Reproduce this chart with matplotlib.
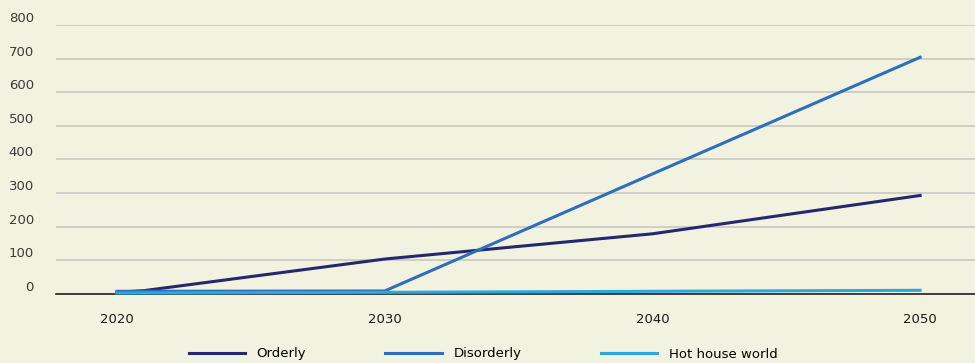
import matplotlib.pyplot as plt

years_orderly = [2020, 2021, 2030, 2040, 2050]
orderly = [5, 10, 104, 179, 293]

years_disorderly = [2020, 2030, 2040, 2050]
disorderly = [8, 9, 357, 704]

years_hot = [2020, 2030, 2040, 2050]
hot_house = [3, 5, 8, 11]

x_ticks = [2020, 2030, 2040, 2050]
y_ticks = [0, 100, 200, 300, 400, 500, 600, 700, 800]

bg = '#F2F2E0'

fig = plt.figure(figsize=(9.75, 3.63), dpi=100, facecolor=bg)
ax = fig.add_axes([56 / 975, 69 / 363, 1 - 56 / 975, 269 / 363])
ax.set_facecolor(bg)

ax.plot(years_orderly, orderly, color='#27276E', lw=2.2, label='Orderly', clip_on=False, zorder=3)
ax.plot(years_disorderly, disorderly, color='#2F6EBA', lw=2.2, label='Disorderly', clip_on=False, zorder=3)
ax.plot(years_hot, hot_house, color='#2AA8E0', lw=2.2, label='Hot house world', clip_on=False, zorder=3)

ax.set_xlim(2017.72, 2052.05)
ax.set_ylim(0, 800)
ax.set_xticks(x_ticks)
ax.set_yticks(y_ticks)
ax.tick_params(axis='both', length=0)
ax.tick_params(axis='x', pad=14, labelsize=9.5, labelcolor='#1a1a1a')
ax.tick_params(axis='y', pad=16, labelsize=9.5, labelcolor='#3a3a3a')
for lab in ax.get_yticklabels():
    lab.set_verticalalignment('bottom')

ax.grid(axis='y', color='#C8C8C4', lw=1.2)
ax.set_axisbelow(True)
for s in ['top', 'right', 'left']:
    ax.spines[s].set_visible(False)
ax.spines['bottom'].set_color('#222222')
ax.spines['bottom'].set_linewidth(1.2)

fig.legend(loc='center', bbox_to_anchor=(483 / 975, 1 - 354 / 363), ncol=3,
           frameon=False, fontsize=9.5, handlelength=4.3, columnspacing=6.0,
           handletextpad=0.85)

plt.savefig('out.png', dpi=100, facecolor=bg)
